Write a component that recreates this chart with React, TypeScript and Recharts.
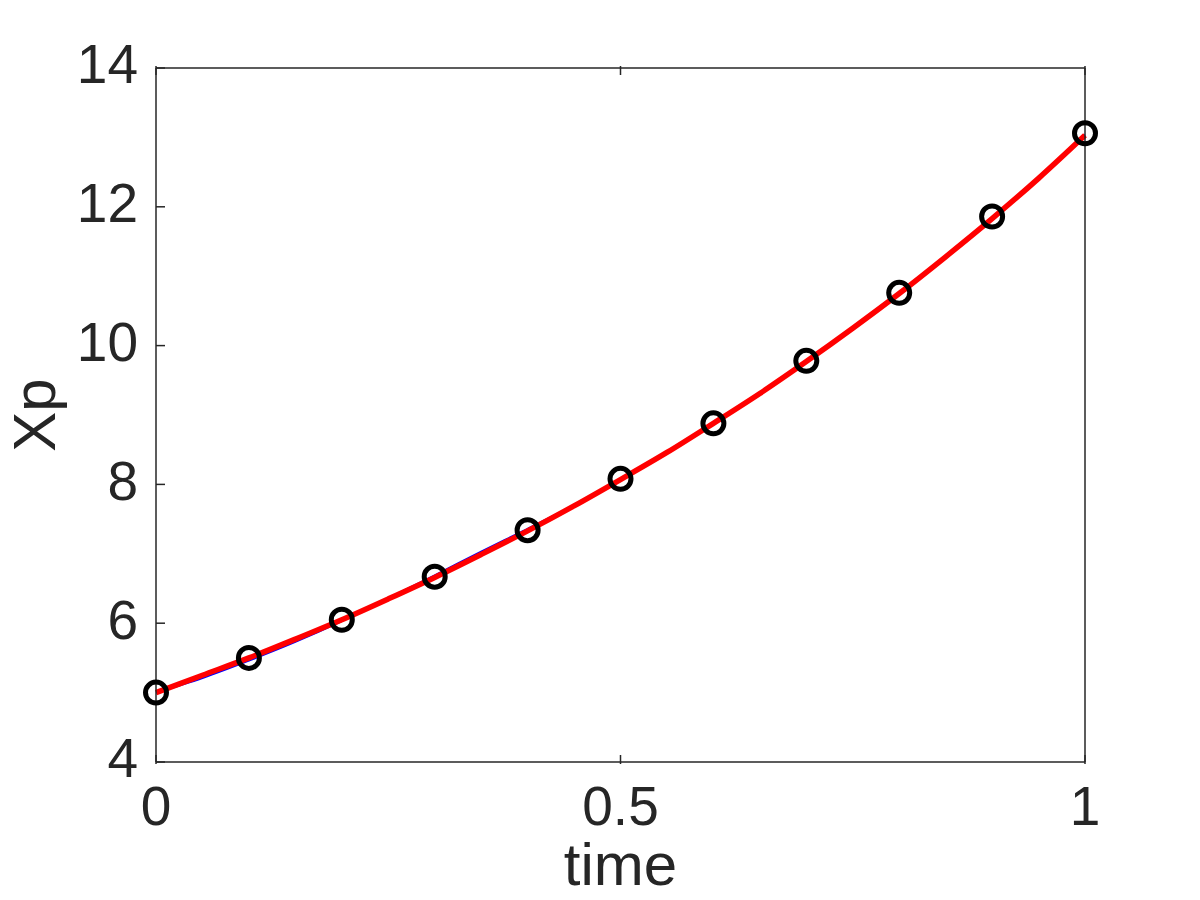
import { LineChart, Line, XAxis, YAxis } from "recharts";

// time grid for the curves
const timeSteps = [0, 0.05, 0.1, 0.15, 0.2, 0.25, 0.3, 0.35, 0.4, 0.45, 0.5, 0.55, 0.6, 0.65, 0.7, 0.75, 0.8, 0.85, 0.9, 0.95, 1];
// red (thick) curve
const redCurve = [5.0, 5.25, 5.5, 5.77, 6.05, 6.35, 6.66, 6.99, 7.33, 7.69, 8.07, 8.46, 8.88, 9.31, 9.77, 10.25, 10.75, 11.28, 11.83, 12.41, 13.03];
// blue (thin) curve
const blueCurve = [5.0, 5.21, 5.46, 5.73, 6.03, 6.36, 6.69, 7.03, 7.36, 7.7, 8.06, 8.45, 8.88, 9.31, 9.77, 10.25, 10.76, 11.28, 11.84, 12.42, 13.04];
// circle markers at every 0.1
const markerTimes = [0, 0.1, 0.2, 0.3, 0.4, 0.5, 0.6, 0.7, 0.8, 0.9, 1];
const markerValues = [5.0, 5.5, 6.05, 6.67, 7.34, 8.08, 8.88, 9.78, 10.76, 11.86, 13.06];

const xTicks = [0, 0.5, 1];
const yTicks = [4, 6, 8, 10, 12, 14];

const data = timeSteps.map((t, i) => {
  const m = markerTimes.findIndex((mt) => Math.abs(mt - t) < 1e-9);
  return { t, red: redCurve[i], blue: blueCurve[i], marker: m >= 0 ? markerValues[m] : null };
});

const INK = "#262626";
const FONT = "'Liberation Sans', Arial, Helvetica, sans-serif";
const TICK_LEN = 9;

const LeftTick = (props: any) => {
  const { x, y, payload } = props;
  return (
    <g>
      <line x1={x + 18} y1={y} x2={x + 18 + TICK_LEN} y2={y} stroke={INK} strokeWidth={1.5} />
      <text x={x} y={y} dy="0.28em" textAnchor="end" fontSize={55} fill={INK} fontFamily={FONT}>
        {payload.value}
      </text>
    </g>
  );
};

const BottomTick = (props: any) => {
  const { x, y, payload } = props;
  return (
    <g>
      <line x1={x} y1={y} x2={x} y2={y - TICK_LEN} stroke={INK} strokeWidth={1.5} />
      <text x={x} y={y + 61} textAnchor="middle" fontSize={55} fill={INK} fontFamily={FONT}>
        {payload.value}
      </text>
    </g>
  );
};

const RightTick = (props: any) => {
  const { x, y } = props;
  return <line x1={x} y1={y} x2={x - TICK_LEN} y2={y} stroke={INK} strokeWidth={1.5} />;
};

const TopTick = (props: any) => {
  const { x, y } = props;
  return <line x1={x} y1={y} x2={x} y2={y + TICK_LEN} stroke={INK} strokeWidth={1.5} />;
};

// rotated y label, placed left of the tick labels and centred on the plot box
const YLabel = (props: any) => {
  const { viewBox } = props;
  const cx = 55;
  const cy = viewBox.y + viewBox.height / 2;
  return (
    <text x={cx} y={cy} transform={`rotate(-90 ${cx} ${cy})`} textAnchor="middle" fontSize={60} fill={INK} fontFamily={FONT}>
      Xp
    </text>
  );
};

const Marker = (props: any) => {
  const { cx, cy, payload } = props;
  if (payload.marker == null) return <g key={props.index} />;
  return <circle key={props.index} cx={cx} cy={cy} r={10.5} fill="none" stroke="#000" strokeWidth={5} />;
};

export default function App() {
  return (
    <div style={{ position: "absolute", left: 0, top: 0, width: 1200, height: 900, background: "#fff" }}>
      <LineChart width={1200} height={900} data={data} margin={{ top: 0, right: 0, left: 0, bottom: 0 }}>
        <XAxis
          xAxisId="bottom"
          dataKey="t"
          type="number"
          domain={[0, 1]}
          ticks={xTicks}
          height={138}
          tickSize={0}
          tickLine={false}
          tick={<BottomTick />}
          axisLine={{ stroke: INK, strokeWidth: 1.5 }}
          label={{ value: "time", position: "insideBottom", offset: 15, fontSize: 60, fill: INK, fontFamily: FONT }}
        />
        <XAxis
          xAxisId="top"
          orientation="top"
          dataKey="t"
          type="number"
          domain={[0, 1]}
          ticks={xTicks}
          height={68}
          tickSize={0}
          tickLine={false}
          tick={<TopTick />}
          axisLine={{ stroke: INK, strokeWidth: 1.5 }}
        />
        <YAxis
          yAxisId="left"
          type="number"
          domain={[4, 14]}
          ticks={yTicks}
          width={156}
          tickSize={0}
          tickMargin={18}
          tickLine={false}
          tick={<LeftTick />}
          axisLine={{ stroke: INK, strokeWidth: 1.5 }}
          label={<YLabel />}
        />
        <YAxis
          yAxisId="right"
          orientation="right"
          type="number"
          domain={[4, 14]}
          ticks={yTicks}
          width={115}
          tickSize={0}
          tickLine={false}
          tick={<RightTick />}
          axisLine={{ stroke: INK, strokeWidth: 1.5 }}
        />
        <Line
          xAxisId="bottom"
          yAxisId="left"
          dataKey="marker"
          stroke="none"
          connectNulls
          dot={<Marker />}
          activeDot={false}
          isAnimationActive={false}
        />
        <Line
          xAxisId="bottom"
          yAxisId="left"
          type="monotone"
          dataKey="blue"
          stroke="#0000ff"
          strokeWidth={2}
          dot={false}
          activeDot={false}
          isAnimationActive={false}
        />
        <Line
          xAxisId="bottom"
          yAxisId="left"
          type="monotone"
          dataKey="red"
          stroke="#ff0000"
          strokeWidth={5.5}
          dot={false}
          activeDot={false}
          isAnimationActive={false}
        />
      </LineChart>
    </div>
  );
}
